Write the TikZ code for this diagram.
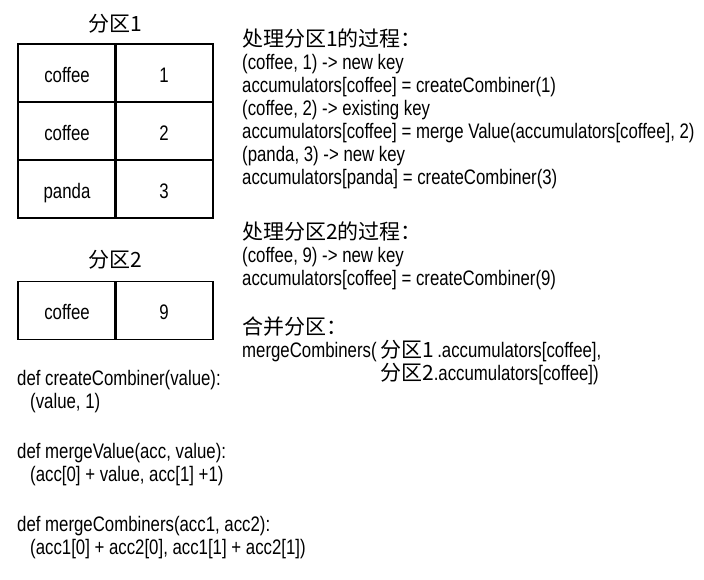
\documentclass[tikz,border=0pt]{standalone}
\usepackage{fontspec}
\setmainfont{Liberation Sans}[FakeStretch=0.80]
\newfontfamily\cjk{Noto Sans CJK SC}
\tikzset{
    cell/.style={draw, line width=1.6pt, minimum width=98pt, minimum height=58pt,
        inner sep=0pt, text height=18pt, text depth=0pt},
    codeline/.style={anchor=base west, inner sep=0pt},
    partname/.style={anchor=base, inner sep=0pt},
}
\begin{document}
\begin{tikzpicture}[x={(1pt,0pt)}, y={(0pt,-1pt)}, font=\fontsize{21pt}{23pt}\selectfont]
        \useasboundingbox (0,0) rectangle (704,579);

        % partitions
        \node[partname] (part1) at (115,31) {\cjk 分区1};
        \node[cell] (k11) at (67,73) {coffee};
        \node[cell] (v11) at (164,73) {1};
        \node[cell] (k12) at (67,131.5) {coffee};
        \node[cell] (v12) at (164,131.5) {2};
        \node[cell] (k13) at (67,189) {panda};
        \node[cell] (v13) at (164,189) {3};

        \node[partname] (part2) at (115,267) {\cjk 分区2};
        \node[cell] (k21) at (67,310.5) {coffee};
        \node[cell] (v21) at (164,310.5) {9};

        % functions
        \node[codeline] (defcreate) at (17,385) {def createCombiner(value):};
        \node[codeline] (bodycreate) at (30,408) {(value, 1)};
        \node[codeline] (defmergev) at (17,458) {def mergeValue(acc, value):};
        \node[codeline] (bodymergev) at (30,481) {(acc[0] + value, acc[1] +1)};
        \node[codeline] (defmergec) at (17,531) {def mergeCombiners(acc1, acc2):};
        \node[codeline] (bodymergec) at (30,554) {(acc1[0] + acc2[0], acc1[1] + acc2[1])};

        % processing of partition 1
        \node[codeline] (proc1) at (242,46) {\cjk 处理分区1的过程：};
        \node[codeline] (proc1a) at (242,69) {(coffee, 1) -> new key};
        \node[codeline] (proc1b) at (242,92) {accumulators[coffee] = createCombiner(1)};
        \node[codeline] (proc1c) at (242,115) {(coffee, 2) -> existing key};
        \node[codeline] (proc1d) at (242,138) {accumulators[coffee] = merge Value(accumulators[coffee], 2)};
        \node[codeline] (proc1e) at (242,161) {(panda, 3) -> new key};
        \node[codeline] (proc1f) at (242,184) {accumulators[panda] = createCombiner(3)};

        % processing of partition 2
        \node[codeline] (proc2) at (242,239) {\cjk 处理分区2的过程：};
        \node[codeline] (proc2a) at (242,262) {(coffee, 9) -> new key};
        \node[codeline] (proc2b) at (242,285) {accumulators[coffee] = createCombiner(9)};

        % merge
        \node[codeline] (merge) at (242,334) {\cjk 合并分区：};
        \node[codeline] (mergea) at (242,357) {mergeCombiners(\,{\cjk 分区1}\,.accumulators[coffee],};
        \node[codeline] (mergeb) at (242,380) {\phantom{mergeCombiners(\,}{\cjk 分区2}.accumulators[coffee])};
    \end{tikzpicture}
\end{document}
